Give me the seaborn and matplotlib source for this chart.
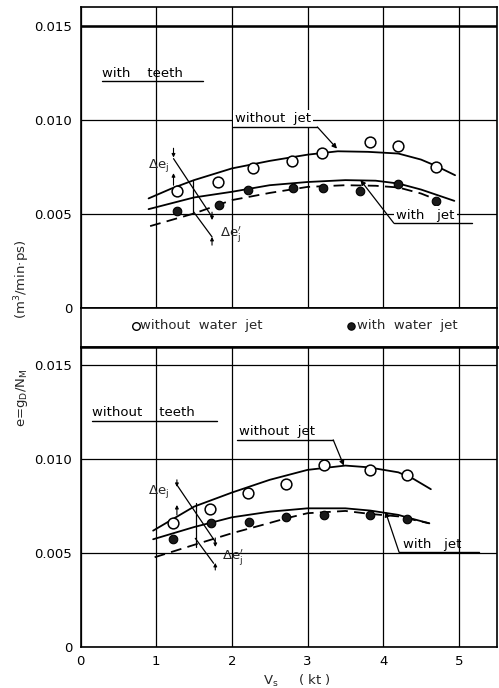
import numpy as np
import pandas as pd
import matplotlib
matplotlib.use("Agg")
import matplotlib.pyplot as plt
import seaborn as sns

sns.set_theme(style="white")
plt.rcParams['font.family'] = ['DejaVu Sans']
plt.rcParams['mathtext.fontset'] = 'dejavusans'

# ---------------- data ----------------
# with teeth : measured points
vs_teeth_nojet = [1.28, 1.82, 2.28, 2.80, 3.19, 3.82, 4.20, 4.70]
e_teeth_nojet = [0.00623, 0.00671, 0.00745, 0.00780, 0.00824, 0.00882, 0.00861, 0.00750]
vs_teeth_jet = [1.27, 1.83, 2.21, 2.81, 3.21, 3.70, 4.20, 4.70]
e_teeth_jet = [0.00517, 0.00547, 0.00627, 0.00639, 0.00636, 0.00621, 0.00657, 0.00568]

# with teeth : faired curves
vs_teeth_c1 = [0.90, 1.20, 1.50, 2.00, 2.50, 3.00, 3.40, 3.80, 4.20, 4.50, 4.70, 4.95]
e_teeth_c1 = [0.00583, 0.00635, 0.00680, 0.00742, 0.00782, 0.00815, 0.00833, 0.00830, 0.00821, 0.00789, 0.00755, 0.00706]
vs_teeth_c2 = [0.90, 1.50, 2.00, 2.50, 3.00, 3.50, 3.90, 4.20, 4.50, 4.94]
e_teeth_c2 = [0.00526, 0.00588, 0.00618, 0.00653, 0.00670, 0.00680, 0.00677, 0.00662, 0.00630, 0.00570]
vs_teeth_c3 = [0.92, 1.50, 2.00, 2.50, 3.00, 3.50, 3.90, 4.20, 4.50, 4.72]
e_teeth_c3 = [0.00436, 0.00503, 0.00574, 0.00612, 0.00644, 0.00653, 0.00650, 0.00641, 0.00609, 0.00574]

# without teeth : measured points
vs_noteeth_nojet = [1.22, 1.71, 2.22, 2.72, 3.22, 3.83, 4.32]
e_noteeth_nojet = [0.00662, 0.00735, 0.00819, 0.00870, 0.00971, 0.00944, 0.00916]
vs_noteeth_jet = [1.22, 1.73, 2.23, 2.72, 3.22, 3.83, 4.32]
e_noteeth_jet = [0.00573, 0.00660, 0.00665, 0.00690, 0.00704, 0.00703, 0.00680]

# without teeth : faired curves
vs_noteeth_c1 = [0.96, 1.50, 2.00, 2.50, 3.00, 3.50, 3.80, 4.20, 4.40, 4.63]
e_noteeth_c1 = [0.00619, 0.00747, 0.00822, 0.00890, 0.00943, 0.00966, 0.00957, 0.00930, 0.00895, 0.00840]
vs_noteeth_c2 = [0.96, 1.50, 2.00, 2.50, 3.00, 3.50, 3.83, 4.20, 4.32, 4.61]
e_noteeth_c2 = [0.00573, 0.00638, 0.00690, 0.00720, 0.00738, 0.00738, 0.00726, 0.00703, 0.00689, 0.00658]
vs_noteeth_c3 = [0.98, 1.50, 2.00, 2.50, 2.72, 3.00, 3.50, 3.83, 4.20, 4.61]
e_noteeth_c3 = [0.00477, 0.00543, 0.00605, 0.00660, 0.00685, 0.00712, 0.00724, 0.00708, 0.00695, 0.00658]

x_ticks = [0, 1, 2, 3, 4, 5]
y_ticks = [0, 0.005, 0.010, 0.015]
y_ticklabels = ["0", "0.005", "0.010", "0.015"]

# ---------------- figure ----------------
W, H = 499, 688
fig = plt.figure(figsize=(W / 100, H / 100), dpi=100)


def rect(l, t, r, b):
    return [l / W, 1 - b / H, (r - l) / W, (b - t) / H]


ax_top = fig.add_axes(rect(80.5, 6.7, 496.7, 308.3))
ax_leg = fig.add_axes(rect(80.5, 308.3, 496.7, 346.7))
ax_bot = fig.add_axes(rect(80.5, 346.7, 496.7, 646.7))

TXT = 9.5


def style_axes(ax, show_x):
    ax.set_xlim(0, 5.5)
    ax.set_ylim(0, 0.016)
    ax.set_xticks(x_ticks)
    ax.set_yticks(y_ticks)
    ax.set_yticklabels(y_ticklabels)
    if show_x:
        ax.set_xticklabels([str(v) for v in x_ticks])
    else:
        ax.set_xticklabels([])
    ax.tick_params(length=0, labelsize=9.5, colors='black', pad=6)
    ax.grid(True, color='black', lw=0.9, zorder=0)
    ax.set_axisbelow(True)
    for s in ax.spines.values():
        s.set_color('black')
        s.set_linewidth(1.2)
    ax.set_xlabel("")
    ax.set_ylabel("")


def draw_panel(ax, vs_o, e_o, vs_f, e_f, c1, c2, c3):
    sns.lineplot(x=c1[0], y=c1[1], ax=ax, color='black', lw=1.3, sort=False, estimator=None, zorder=3)
    sns.lineplot(x=c2[0], y=c2[1], ax=ax, color='black', lw=1.3, sort=False, estimator=None, zorder=3)
    l3 = sns.lineplot(x=c3[0], y=c3[1], ax=ax, color='black', lw=1.3, sort=False, estimator=None, zorder=3)
    l3.lines[-1].set_dashes([6, 3.5])
    sns.scatterplot(x=vs_o, y=e_o, ax=ax, marker='o', s=60, facecolor='white',
                    edgecolor='black', linewidth=1.1, zorder=5)
    sns.scatterplot(x=vs_f, y=e_f, ax=ax, marker='o', s=38, color='#1a1a1a',
                    edgecolor='black', linewidth=0.8, zorder=5)


def underlined(ax, x, y, text, x0, x1, y_line, box=False):
    kw = dict(fontsize=TXT, ha='left', va='bottom', color='black', zorder=6)
    if box:
        kw['bbox'] = dict(fc='white', ec='none', pad=1.5)
    ax.text(x, y, text, **kw)
    ax.plot([x0, x1], [y_line, y_line], color='black', lw=1.0, zorder=7)


def leader(ax, x0, y0, x1, y1):
    ax.annotate('', xy=(x1, y1), xytext=(x0, y0),
                arrowprops=dict(arrowstyle='-|>', color='black', lw=0.9,
                                mutation_scale=7, shrinkA=0, shrinkB=0), zorder=7)


def small_arrow(ax, x, y0, y1):
    ax.annotate('', xy=(x, y1), xytext=(x, y0),
                arrowprops=dict(arrowstyle='-|>', color='black', lw=0.8,
                                mutation_scale=5, shrinkA=0, shrinkB=0), zorder=7)


def seg(ax, x0, y0, x1, y1):
    ax.plot([x0, x1], [y0, y1], color='black', lw=0.9, zorder=4)


# ---------- top panel : with teeth ----------
draw_panel(ax_top, vs_teeth_nojet, e_teeth_nojet, vs_teeth_jet, e_teeth_jet,
           (vs_teeth_c1, e_teeth_c1), (vs_teeth_c2, e_teeth_c2), (vs_teeth_c3, e_teeth_c3))
style_axes(ax_top, False)
ax_top.axhline(0.015, color='black', lw=1.8, zorder=1)
underlined(ax_top, 0.28, 0.01212, "with    teeth", 0.28, 1.62, 0.01204)
underlined(ax_top, 2.04, 0.00970, "without  jet", 2.01, 3.13, 0.00962, box=True)
leader(ax_top, 3.13, 0.00962, 3.39, 0.00847)
underlined(ax_top, 4.17, 0.00460, "with   jet", 4.14, 5.17, 0.00452, box=True)
leader(ax_top, 4.14, 0.00452, 3.70, 0.00680)
# delta e annotations
ax_top.text(0.89, 0.00760, r"$\Delta\mathrm{e_j}$", fontsize=TXT, ha='left', va='center', zorder=6)
ax_top.text(1.85, 0.00388, r"$\Delta\mathrm{e_j^{\prime}}$", fontsize=TXT, ha='left', va='center', zorder=6)
seg(ax_top, 1.229, 0.00794, 1.738, 0.00485)
seg(ax_top, 1.494, 0.00512, 1.738, 0.00379)
seg(ax_top, 1.49, 0.00680, 1.49, 0.00505)
small_arrow(ax_top, 1.229, 0.00849, 0.00800)
small_arrow(ax_top, 1.229, 0.00653, 0.00717)
small_arrow(ax_top, 1.738, 0.00510, 0.00468)
small_arrow(ax_top, 1.738, 0.00335, 0.00379)

# ---------- legend strip ----------
ax_leg.set_xlim(0, 5.5)
ax_leg.set_ylim(0, 1)
ax_leg.set_xticks([])
ax_leg.set_yticks([])
for s in ax_leg.spines.values():
    s.set_color('black')
    s.set_linewidth(1.2)
ax_leg.spines['bottom'].set_linewidth(1.8)
ax_leg.scatter([0.735], [0.55], s=30, facecolor='white', edgecolor='black', linewidth=1.0)
ax_leg.text(0.79, 0.55, "without  water  jet", fontsize=TXT, ha='left', va='center')
ax_leg.scatter([3.58], [0.55], s=28, color='#1a1a1a', edgecolor='black', linewidth=0.8)
ax_leg.text(3.66, 0.55, "with  water  jet", fontsize=TXT, ha='left', va='center')

# ---------- bottom panel : without teeth ----------
draw_panel(ax_bot, vs_noteeth_nojet, e_noteeth_nojet, vs_noteeth_jet, e_noteeth_jet,
           (vs_noteeth_c1, e_noteeth_c1), (vs_noteeth_c2, e_noteeth_c2), (vs_noteeth_c3, e_noteeth_c3))
style_axes(ax_bot, True)
underlined(ax_bot, 0.15, 0.01214, "without    teeth", 0.15, 1.80, 0.01206)
underlined(ax_bot, 2.10, 0.01111, "without  jet", 2.07, 3.34, 0.01103)
leader(ax_bot, 3.34, 0.01103, 3.48, 0.00966)
underlined(ax_bot, 4.26, 0.00512, "with   jet", 4.21, 5.27, 0.00504)
leader(ax_bot, 4.21, 0.00504, 4.03, 0.00720)
ax_bot.text(0.89, 0.00826, r"$\Delta\mathrm{e_j}$", fontsize=TXT, ha='left', va='center', zorder=6)
ax_bot.text(1.87, 0.00473, r"$\Delta\mathrm{e_j^{\prime}}$", fontsize=TXT, ha='left', va='center', zorder=6)
seg(ax_bot, 1.274, 0.00863, 1.781, 0.00560)
seg(ax_bot, 1.517, 0.00578, 1.759, 0.00445)
seg(ax_bot, 1.52, 0.00765, 1.52, 0.00534)
small_arrow(ax_bot, 1.274, 0.00890, 0.00852)
small_arrow(ax_bot, 1.274, 0.00703, 0.00756)
small_arrow(ax_bot, 1.781, 0.00580, 0.00532)
small_arrow(ax_bot, 1.781, 0.00409, 0.00447)
ax_bot.spines['top'].set_linewidth(1.8)

# ---------- axis titles ----------
fig.text(22 / W, 1 - 398 / H, "e=g$_\\mathrm{D}$/N$_\\mathrm{M}$", rotation=90,
         ha='center', va='center', fontsize=9.5)
fig.text(22 / W, 1 - 279 / H, "(m$^3$/min·ps)", rotation=90,
         ha='center', va='center', fontsize=9.5)
fig.text(297 / W, 1 - 681 / H, "V$_\\mathrm{s}$     ( kt )", ha='center', va='center', fontsize=9.5)

fig.savefig("out.png", dpi=100)
